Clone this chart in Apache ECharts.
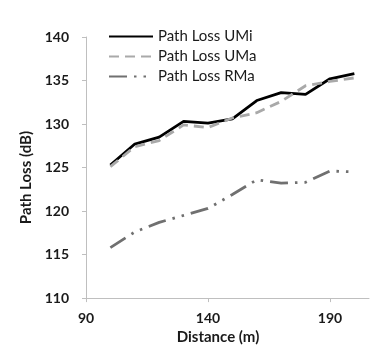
<!DOCTYPE html>
<html>
<head>
<meta charset="utf-8">
<script src="https://cdn.jsdelivr.net/npm/echarts@6/dist/echarts.min.js"></script>
<style>
  html, body { margin: 0; padding: 0; background: #fff; }
  #chart { width: 384px; height: 350px; }
</style>
</head>
<body>
<div id="chart"></div>
<script>
// distances (m)
var distance = [100, 110, 120, 130, 140, 150, 160, 170, 180, 190, 200];
// path loss (dB) per scenario
var lossUMi = [125.3, 127.7, 128.5, 130.3, 130.1, 130.6, 132.7, 133.6, 133.4, 135.2, 135.8];
var lossUMa = [125.1, 127.4, 128.1, 129.9, 129.6, 130.7, 131.3, 132.6, 134.4, 134.9, 135.3];
var lossRMa = [115.8, 117.6, 118.7, 119.5, 120.3, 121.9, 123.6, 123.2, 123.3, 124.6, 124.5];
var xTicks = [90, 140, 190];

var seriesNames = ['Path Loss UMi', 'Path Loss UMa', 'Path Loss RMa'];

var pairs = function (ys) {
    var out = [];
    for (var i = 0; i < distance.length; i++) {
        out.push([distance[i], ys[i]]);
    }
    return out;
};

var font = 'Lato, "Noto Sans", sans-serif';
var axisGray = '#bfbfbf';
var textColor = '#1a1a1a';

var myChart = echarts.init(document.getElementById('chart'), null, { renderer: 'canvas' });
var option = {
    backgroundColor: '#fff',
    animation: false,
    grid: { left: 86, right: 15, top: 37, bottom: 49 },
    legend: {
        left: 103,
        top: 24,
        orient: 'vertical',
        itemWidth: 44,
        itemHeight: 12,
        itemGap: 5,
        itemStyle: { opacity: 0 },
        textStyle: { fontFamily: font, fontSize: 15, color: textColor },
        data: seriesNames
    },
    xAxis: {
        type: 'value',
        min: 90,
        max: 206,
        name: 'Distance (m)',
        nameLocation: 'middle',
        nameGap: 31,
        nameTextStyle: { fontFamily: font, fontSize: 15, fontWeight: 'bold', color: textColor, padding: [0, 19, 0, 0] },
        axisLine: { show: true, lineStyle: { color: axisGray, width: 1 } },
        axisTick: { show: true, length: 4, customValues: xTicks, lineStyle: { color: axisGray } },
        axisLabel: { customValues: xTicks, margin: 13, fontFamily: font, fontSize: 14, fontWeight: 'bold', color: textColor },
        splitLine: { show: false }
    },
    yAxis: {
        type: 'value',
        min: 110,
        max: 140,
        interval: 5,
        name: 'Path Loss (dB)',
        nameLocation: 'middle',
        nameGap: 47,
        nameTextStyle: { fontFamily: font, fontSize: 15, fontWeight: 'bold', color: textColor, padding: [0, 20, 0, 0] },
        axisLine: { show: true, lineStyle: { color: axisGray, width: 1 } },
        axisTick: { show: true, length: 4, lineStyle: { color: axisGray } },
        axisLabel: { margin: 17, fontFamily: font, fontSize: 14, fontWeight: 'bold', color: textColor },
        splitLine: { show: false }
    },
    series: [{
        name: seriesNames[0],
        type: 'line',
        symbol: 'none',
        data: pairs(lossUMi),
        itemStyle: { color: '#000' },
        lineStyle: { color: '#000', width: 2.8 }
    }, {
        name: seriesNames[1],
        type: 'line',
        symbol: 'none',
        data: pairs(lossUMa),
        itemStyle: { color: '#a9a9a9' },
        lineStyle: { color: '#a9a9a9', width: 2.8, type: [10, 6] }
    }, {
        name: seriesNames[2],
        type: 'line',
        symbol: 'none',
        data: pairs(lossRMa),
        itemStyle: { color: '#707070' },
        lineStyle: { color: '#707070', width: 2.8, type: [18, 7, 2.5, 7, 2.5, 7] }
    }]
};
myChart.setOption(option);
</script>
</body>
</html>
